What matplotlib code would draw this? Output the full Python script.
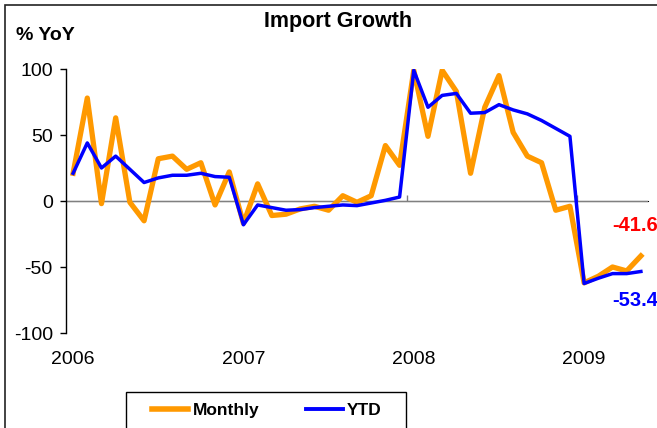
import matplotlib.pyplot as plt
from matplotlib.patches import Rectangle
from matplotlib.lines import Line2D

plt.rcParams['font.family'] = ['Liberation Sans', 'DejaVu Sans']
plt.rcParams['axes.unicode_minus'] = False

# monthly observations Jan 2006 .. May 2009
monthly = [21, 78, -2, 63, -1, -15, 32, 34, 24, 29, -3, 22,
           -17, 13, -11, -10, -6, -4, -7, 4, -1, 4, 42, 27,
           99, 49, 99, 83, 21, 71, 95, 52, 34, 29, -7, -4,
           -62, -57, -50, -53, -41.6]
ytd = [21, 44, 25, 34, 24, 14, 17.5, 19.5, 19.5, 21, 18.5, 18,
       -18, -3, -5, -7, -6.5, -5, -4, -3, -3.5, -1.5, 0.5, 3,
       99, 71, 80, 81.5, 66.5, 67, 73, 69, 66, 61, 55, 49,
       -62.5, -58.5, -55, -55, -53.4]
year_labels = ["2006", "2007", "2008", "2009"]
y_ticks = [-100, -50, 0, 50, 100]

orange = "#FF9900"
blue = "#0000FF"

fig = plt.figure(figsize=(6.57, 4.28), dpi=100)
ax = fig.add_axes([66 / 657, 1 - 333 / 428, (648 - 66) / 657, (333 - 69) / 428])

x = list(range(len(monthly)))
ax.plot(x, monthly, color=orange, lw=3.8, zorder=3)
ax.plot(x, ytd, color=blue, lw=2.5, zorder=4)
ax.axhline(0, color="#808080", lw=1, zorder=1)

ax.set_xlim(-0.5, len(monthly) - 0.5)
ax.set_ylim(-100, 100)

for s in ["top", "right", "bottom"]:
    ax.spines[s].set_visible(False)
ax.spines["left"].set_linewidth(1)

ax.set_yticks(y_ticks)
ax.tick_params(axis="y", direction="out", length=4.5, width=1, pad=5, labelsize=14)
ax.set_xticks([12 * i for i in range(len(year_labels))], year_labels)
ax.tick_params(axis="x", length=0, pad=13, labelsize=14)

# small tick marks on the zero line between December and January
sec = ax.secondary_xaxis(0.5)
sec.set_xticks([12 * i - 0.5 for i in range(1, len(year_labels))], ["", "", ""])
sec.tick_params(length=4, width=1, color="#808080")
sec.spines["bottom"].set_visible(False)

# end labels (run off the right edge as in the original)
last = len(monthly) - 3
ax.text(last, monthly[-1] + 23, f"{monthly[-1]:.1f}", color="#FF0000",
        fontsize=14.5, weight="bold", ha="left", va="center", clip_on=False)
ax.text(last, ytd[-1] - 22, f"{ytd[-1]:.1f}", color=blue,
        fontsize=14.5, weight="bold", ha="left", va="center", clip_on=False)

fig.text(338 / 657, 1 - 22 / 428, "Import Growth", ha="center", va="center",
         fontsize=15.5, weight="bold")
fig.text(16 / 657, 1 - 35 / 428, "% YoY", ha="left", va="center",
         fontsize=14, weight="bold")

# outer chart border (cut off at right and bottom)
fig.patches.append(Rectangle((5 / 657, -0.1), 1.2, 1 - 5 / 428 + 0.1,
                             transform=fig.transFigure, fill=False,
                             ec="#222222", lw=1.2))
# legend box
fig.patches.append(Rectangle((126 / 657, -0.1), (406 - 126) / 657, 1 - 392 / 428 + 0.1,
                             transform=fig.transFigure, fill=False,
                             ec="black", lw=1))
handles = [Line2D([], [], color=orange, lw=4), Line2D([], [], color=blue, lw=2.8)]
fig.legend(handles, ["Monthly", "YTD"], loc="center left",
           bbox_to_anchor=(152 / 657, 1 - 410 / 428), ncol=2, frameon=False,
           borderpad=0, borderaxespad=0, handlelength=2.1, handletextpad=0.25,
           columnspacing=2.7, prop={"size": 12.5, "weight": "bold"})

fig.savefig("out.png", dpi=100)
